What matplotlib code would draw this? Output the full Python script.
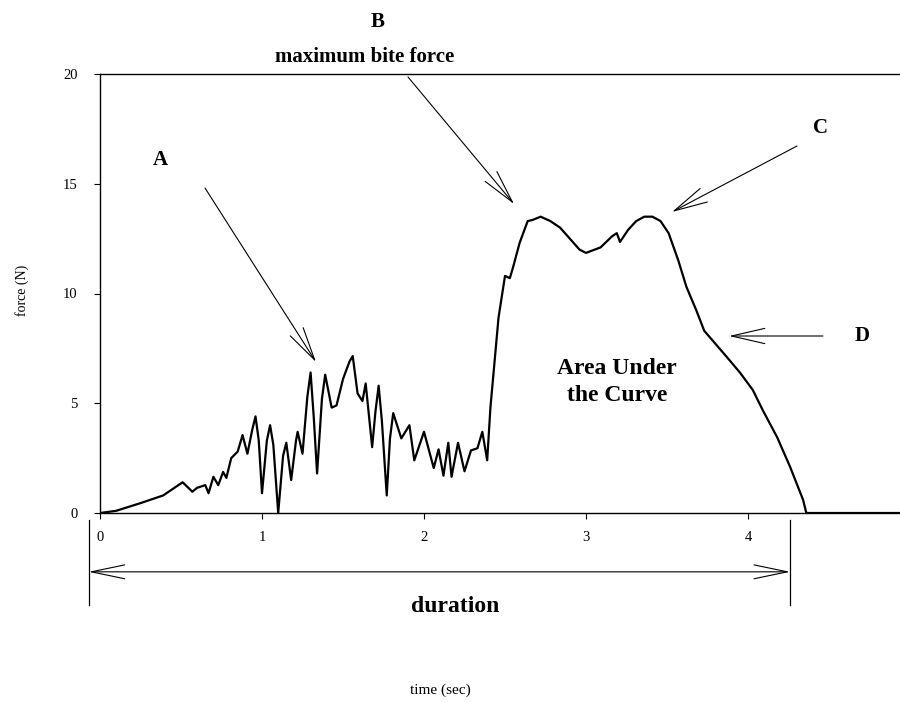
import matplotlib
matplotlib.use("Agg")
import matplotlib.pyplot as plt
import matplotlib.transforms as mtransforms

# bite force trace, read as (time, force) pairs
time_s = [0.0, 0.1, 0.25, 0.39, 0.51, 0.57, 0.6, 0.65, 0.67, 0.7, 0.73, 0.76,
          0.78, 0.81, 0.85, 0.88, 0.91, 0.94, 0.96, 0.98, 1.0, 1.03, 1.05, 1.07,
          1.1, 1.13, 1.15, 1.18, 1.21, 1.22, 1.25, 1.28, 1.3, 1.32, 1.34, 1.37,
          1.39, 1.43, 1.46, 1.5, 1.54, 1.56, 1.59, 1.62, 1.64, 1.68, 1.7, 1.72,
          1.74, 1.77, 1.79, 1.81, 1.86, 1.91, 1.94, 2.0, 2.06, 2.09, 2.12, 2.15,
          2.17, 2.21, 2.25, 2.29, 2.33, 2.36, 2.39, 2.41, 2.46, 2.5, 2.53, 2.55,
          2.59, 2.64, 2.67, 2.72, 2.78, 2.84, 2.9, 2.96, 3.0, 3.09, 3.16, 3.19,
          3.21, 3.26, 3.31, 3.36, 3.41, 3.46, 3.51, 3.57, 3.62, 3.68, 3.73, 3.8,
          3.87, 3.95, 4.03, 4.09, 4.18, 4.26, 4.34, 4.36, 5.0]
force_n = [0.0, 0.1, 0.45, 0.8, 1.4, 0.97, 1.15, 1.27, 0.9, 1.65, 1.27, 1.87,
           1.6, 2.5, 2.8, 3.55, 2.7, 3.8, 4.4, 3.3, 0.9, 3.3, 4.0, 3.1,
           0.0, 2.6, 3.2, 1.5, 3.3, 3.7, 2.7, 5.3, 6.4, 4.3, 1.8, 5.2,
           6.3, 4.8, 4.9, 6.1, 6.9, 7.15, 5.45, 5.1, 5.9, 3.0, 4.6, 5.8,
           4.2, 0.8, 3.4, 4.55, 3.4, 4.0, 2.4, 3.7, 2.05, 2.9, 1.7, 3.2,
           1.65, 3.2, 1.9, 2.85, 2.95, 3.7, 2.4, 4.8, 8.9, 10.8, 10.7, 11.2,
           12.3, 13.3, 13.35, 13.5, 13.3, 13.0, 12.5, 12.0, 11.85, 12.1, 12.6, 12.75,
           12.35, 12.9, 13.3, 13.5, 13.5, 13.3, 12.75, 11.5, 10.3, 9.25, 8.3, 7.7,
           7.1, 6.4, 5.6, 4.7, 3.45, 2.1, 0.6, 0.0, 0.0]

x_ticks = [0, 1, 2, 3, 4]
y_ticks = [0, 5, 10, 15, 20]
duration_span = [-0.07, 4.26]

serif = "Liberation Serif"

fig = plt.figure(figsize=(9, 7.02), dpi=100)
ax = fig.add_axes([100 / 900, 1 - 513 / 702, 810 / 900, 439 / 702])

ax.plot(time_s, force_n, color="black", lw=1.6, solid_joinstyle="round")

ax.set_xlim(0, 5)
ax.set_ylim(0, 20)
ax.set_xticks(x_ticks)
ax.set_yticks(y_ticks)
ax.tick_params(axis="y", direction="out", length=4, width=0.8, pad=12, labelsize=10.5)
ax.tick_params(axis="x", direction="out", length=4, width=0.8, pad=9, labelsize=10.5)
for lab in ax.get_xticklabels() + ax.get_yticklabels():
    lab.set_fontfamily(serif)
ax.spines["right"].set_visible(False)
for s in ["left", "bottom", "top"]:
    ax.spines[s].set_linewidth(1.0)

def ftext(px, py, s, **kw):
    fig.text(px / 900, 1 - py / 702, s, family=serif, ha="center", va="center", **kw)

ftext(22, 290, "force (N)", fontsize=10, rotation=90)
ftext(440, 690, "time (sec)", fontsize=11)

# letter annotations with long open arrows
arrow = dict(arrowstyle="->, head_length=2.4, head_width=0.55", lw=0.8,
             color="black", mutation_scale=10, shrinkA=0, shrinkB=0)

def fig_arrow(tail, tip):
    ax.annotate("", xy=(tip[0], 702 - tip[1]), xycoords="figure pixels",
                xytext=(tail[0], 702 - tail[1]), textcoords="figure pixels",
                arrowprops=arrow, annotation_clip=False)

ftext(160, 160, "A", fontsize=15, fontweight="bold")
fig_arrow((205, 188), (316, 362))

ftext(378, 22, "B", fontsize=15, fontweight="bold")
ftext(365, 57, "maximum bite force", fontsize=15, fontweight="bold")
fig_arrow((408, 77), (514, 204))

ftext(820, 128, "C", fontsize=15, fontweight="bold")
fig_arrow((797, 146), (672, 212))

ftext(862, 336, "D", fontsize=15, fontweight="bold")
fig_arrow((823, 336), (729, 336))

ftext(617, 382, "Area Under\nthe Curve", fontsize=17, fontweight="bold",
      linespacing=1.35)

# duration bracket below the time axis
trans = mtransforms.blended_transform_factory(ax.transData, ax.transAxes)
ax.annotate("", xy=(duration_span[0], -0.134), xycoords=trans,
            xytext=(duration_span[1], -0.134), textcoords=trans,
            arrowprops=dict(arrowstyle="<->, head_length=2.4, head_width=0.5",
                            lw=0.8, color="black", mutation_scale=10,
                            shrinkA=0, shrinkB=0),
            annotation_clip=False)
for xv in duration_span:
    ax.plot([xv, xv], [-0.016, -0.21], transform=trans, color="black",
            lw=0.9, clip_on=False)
ftext(455, 606, "duration", fontsize=17, fontweight="bold")

fig.savefig("out.png", dpi=100)
